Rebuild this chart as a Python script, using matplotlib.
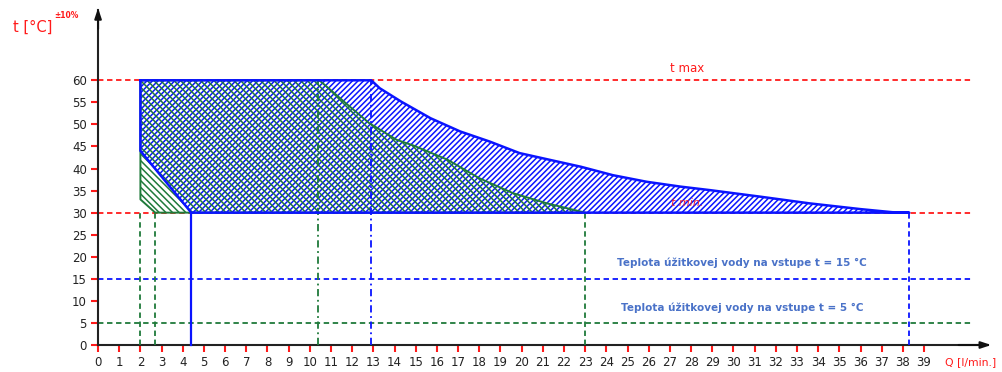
import matplotlib
matplotlib.use("Agg")
import matplotlib.pyplot as plt

# oblast - modra (vstup 15 °C)
blue_q = [2, 12.9, 13.3, 14.3, 15.7, 17.1, 18.5, 19.9, 21.3, 22.8, 24.3, 25.9,
          27.5, 28.9, 31.3, 33.6, 36.0, 37.5, 38.3, 4.4, 2]
blue_t = [60, 60, 58.2, 55.2, 51.4, 48.4, 46.1, 43.5, 42.0, 40.4, 38.5, 37.0,
          35.9, 35.1, 33.6, 32.1, 30.8, 30.1, 30, 30, 44]

# oblast - zelena (vstup 5 °C)
green_q = [2, 10.45, 11.7, 12.8, 14.1, 14.9, 16.5, 18.0, 19.6, 21.2, 23, 2.7, 2]
green_t = [60, 60, 54.8, 50.3, 46.5, 45.2, 42.0, 37.8, 34.4, 32.1, 30, 30, 33]

t_max = 60
t_min = 30
t_in_15 = 15
t_in_5 = 5

# zvisle pomocne ciary
green_dash_q = [2, 2.7, 23]
blue_dash_q = [38.3]
green_dashdot_q = 10.4
blue_dashdot_q = 12.9
blue_solid_q = 4.4

x_ticks = list(range(0, 40))
y_ticks = list(range(0, 61, 5))

RED = "#ff1a1a"
BLUE = "#0a14ff"
GREEN = "#1f7a3a"
TXT_BLUE = "#4a72c8"

plt.rcParams["hatch.linewidth"] = 1.1

fig = plt.figure(figsize=(10.02, 3.72), dpi=100)
ax = fig.add_axes([0, 0, 1, 1])
ax.set_xlim(-4.63, 42.68)
ax.set_ylim(-6.12, 78.2)

# horizontalne ciary
ax.plot([0, 41.2], [t_max, t_max], color=RED, lw=1.3, ls=(0, (3, 2)), zorder=1)
ax.plot([0, 41.2], [t_min, t_min], color=RED, lw=1.3, ls=(0, (3, 2)), zorder=1)
ax.plot([0, 41.2], [t_in_15, t_in_15], color=BLUE, lw=1.3, ls=(0, (3, 2)), zorder=1)
ax.plot([0, 41.2], [t_in_5, t_in_5], color=GREEN, lw=1.3, ls=(0, (3, 2)), zorder=1)

# vyplnene oblasti
ax.fill(blue_q, blue_t, facecolor="none", edgecolor=BLUE, hatch="//////", lw=0, zorder=2)
ax.fill(green_q, green_t, facecolor="none", edgecolor=GREEN, hatch="\\\\\\\\\\", lw=0, zorder=3)
ax.plot(green_q + green_q[:1], green_t + green_t[:1], color=GREEN, lw=1.4, zorder=4)
ax.plot(blue_q + blue_q[:1], blue_t + blue_t[:1], color=BLUE, lw=1.8, zorder=5)

# zvisle ciary
for q in green_dash_q:
    ax.plot([q, q], [0, t_min], color=GREEN, lw=1.3, ls=(0, (3, 2)), zorder=4)
for q in blue_dash_q:
    ax.plot([q, q], [0, t_min], color=BLUE, lw=1.3, ls=(0, (3, 2)), zorder=4)
ax.plot([green_dashdot_q] * 2, [0, t_max], color=GREEN, lw=1.3, ls=(0, (4, 2, 1, 2)), zorder=4)
ax.plot([blue_dashdot_q] * 2, [0, t_max], color=BLUE, lw=1.3, ls=(0, (4, 2, 1, 2)), zorder=4)
ax.plot([blue_solid_q] * 2, [0, t_min], color=BLUE, lw=1.6, zorder=4)

# osi
for s in ["top", "right"]:
    ax.spines[s].set_visible(False)
ax.spines["left"].set_position(("data", 0))
ax.spines["bottom"].set_position(("data", 0))
ax.spines["left"].set_bounds(0, 76)
ax.spines["bottom"].set_bounds(0, 42)
ax.spines["left"].set_color("#222222")
ax.spines["bottom"].set_color("#222222")
ax.spines["left"].set_linewidth(1.5)
ax.spines["bottom"].set_linewidth(1.5)
ax.annotate("", xy=(0, 77), xytext=(0, 71),
            arrowprops=dict(arrowstyle="-|>,head_length=0.6,head_width=0.2", color="#111111", lw=1.5))
ax.annotate("", xy=(42.3, 0), xytext=(40.5, 0),
            arrowprops=dict(arrowstyle="-|>,head_length=0.6,head_width=0.2", color="#111111", lw=1.5))

ax.set_xticks(x_ticks)
ax.set_yticks(y_ticks)
ax.tick_params(axis="both", direction="out", length=5, width=1.5, color=RED,
               labelsize=8.5, labelcolor="#222222", pad=3)

# texty
ax.text(-4.0, 72.0, "t [°C]", color=RED, fontsize=10.5, ha="left", va="center")
ax.text(-2.05, 74.8, "±10%", color=RED, fontsize=5.5, fontweight="bold", ha="left", va="center")
ax.text(40.0, -3.8, "Q [l/min.]", color=RED, fontsize=7.8, ha="left", va="center")
ax.text(27.8, 62.6, "t max", color=RED, fontsize=8.5, ha="center", va="center")
ax.text(27.8, 32.3, "t min.", color="#e8203a", fontsize=8, style="italic", ha="center",
        va="center", zorder=6)
ax.text(30.4, 18.6, "Teplota úžitkovej vody na vstupe t = 15 °C", color=TXT_BLUE,
        fontsize=7.5, fontweight="bold", ha="center", va="center")
ax.text(30.4, 8.4, "Teplota úžitkovej vody na vstupe t = 5 °C", color=TXT_BLUE,
        fontsize=7.5, fontweight="bold", ha="center", va="center")

fig.savefig("out.png", dpi=100)
